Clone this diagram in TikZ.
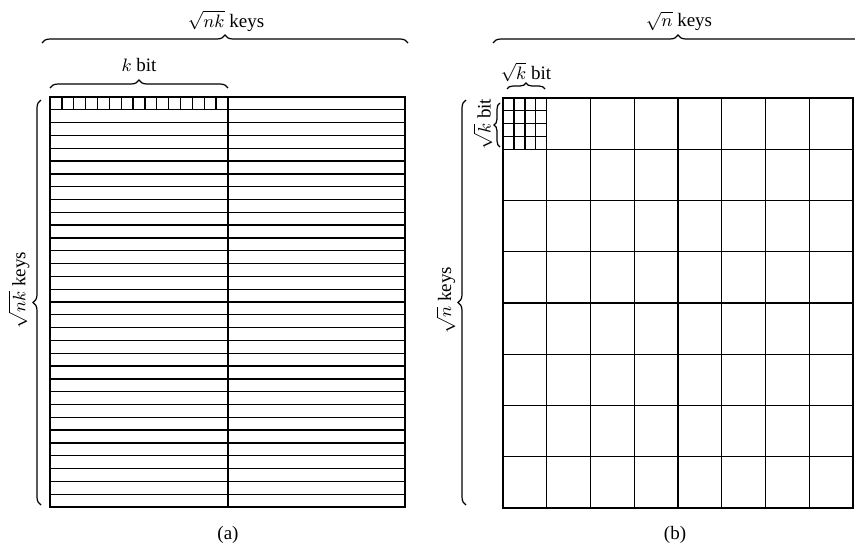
\documentclass[tikz,border=0pt]{standalone}
\usepackage{fontspec}
\setmainfont{Liberation Serif}
\usetikzlibrary{decorations.pathreplacing, positioning}
\tikzset{
	gridline/.style={line width=0.65pt, draw=black},
	bracebig/.style={decorate, decoration={brace, amplitude=4pt}, line width=0.6pt},
	bracesmall/.style={decorate, decoration={brace, amplitude=3pt}, line width=0.6pt},
	lbl/.style={inner sep=0.5pt, font=\fontsize{9.5}{11}\selectfont},
}

\begin{document}
\begin{tikzpicture}[x=0.5pt, y=-0.5pt]
		\useasboundingbox (0,0) rectangle (855,558);
		% (a) rows of keys
		\coordinate (aNW) at (50,97);
		\coordinate (aSE) at (405,507);
		\foreach \r in {1,...,31}{\draw[gridline] (50,97+\r*12.8125) -- (405,97+\r*12.8125);}
		\foreach \c in {1,...,14}{\draw[gridline] (50+\c*11.867,97) -- (50+\c*11.867,109.8);}
		\draw[gridline] (228,97) -- (228,507);
		\draw[gridline] (aNW) rectangle (aSE);
		\draw[bracebig] (42,43) -- (408,43);
		\draw[bracebig] (50,88) -- (228,88);
		\draw[bracebig] (41,505) -- (41,100);
		\node[lbl] (akeys) at (226,21) {$\sqrt{nk}$ keys};
		\node[lbl] (abit) at (139,65) {$k$ bit};
		\node[lbl, rotate=90] (arows) at (19,290) {$\sqrt{nk}$ keys};
		\node[lbl] (acap) at (228,535) {(a)};
		% (b) square blocks
		\coordinate (bNW) at (503,98);
		\coordinate (bSE) at (853,508);
		\foreach \i in {1,...,7}{
			\draw[gridline] (503+\i*43.75,98) -- (503+\i*43.75,508);
			\draw[gridline] (503,98+\i*51.25) -- (853,98+\i*51.25);
		}
		\foreach \j in {1,2,3}{
			\draw[gridline] (503+\j*10.94,98) -- (503+\j*10.94,149.25);
			\draw[gridline] (503,98+\j*12.81) -- (546.75,98+\j*12.81);
		}
		\draw[gridline] (bNW) rectangle (bSE);
		\draw[bracebig] (493,43) -- (863,43);
		\draw[bracesmall] (507,89) -- (545,89);
		\draw[bracesmall] (500,147) -- (500,103);
		\draw[bracebig] (466,505) -- (466,100);
		\node[lbl] (bkeys) at (679,21) {$\sqrt{n}$ keys};
		\node[lbl] (bbit) at (526,72) {$\sqrt{k}$ bit};
		\node[lbl, rotate=90] (bbitv) at (483,124) {$\sqrt{k}$ bit};
		\node[lbl, rotate=90] (brows) at (446,300) {$\sqrt{n}$ keys};
		\node[lbl] (bcap) at (675,535) {(b)};
	\end{tikzpicture}
\end{document}
